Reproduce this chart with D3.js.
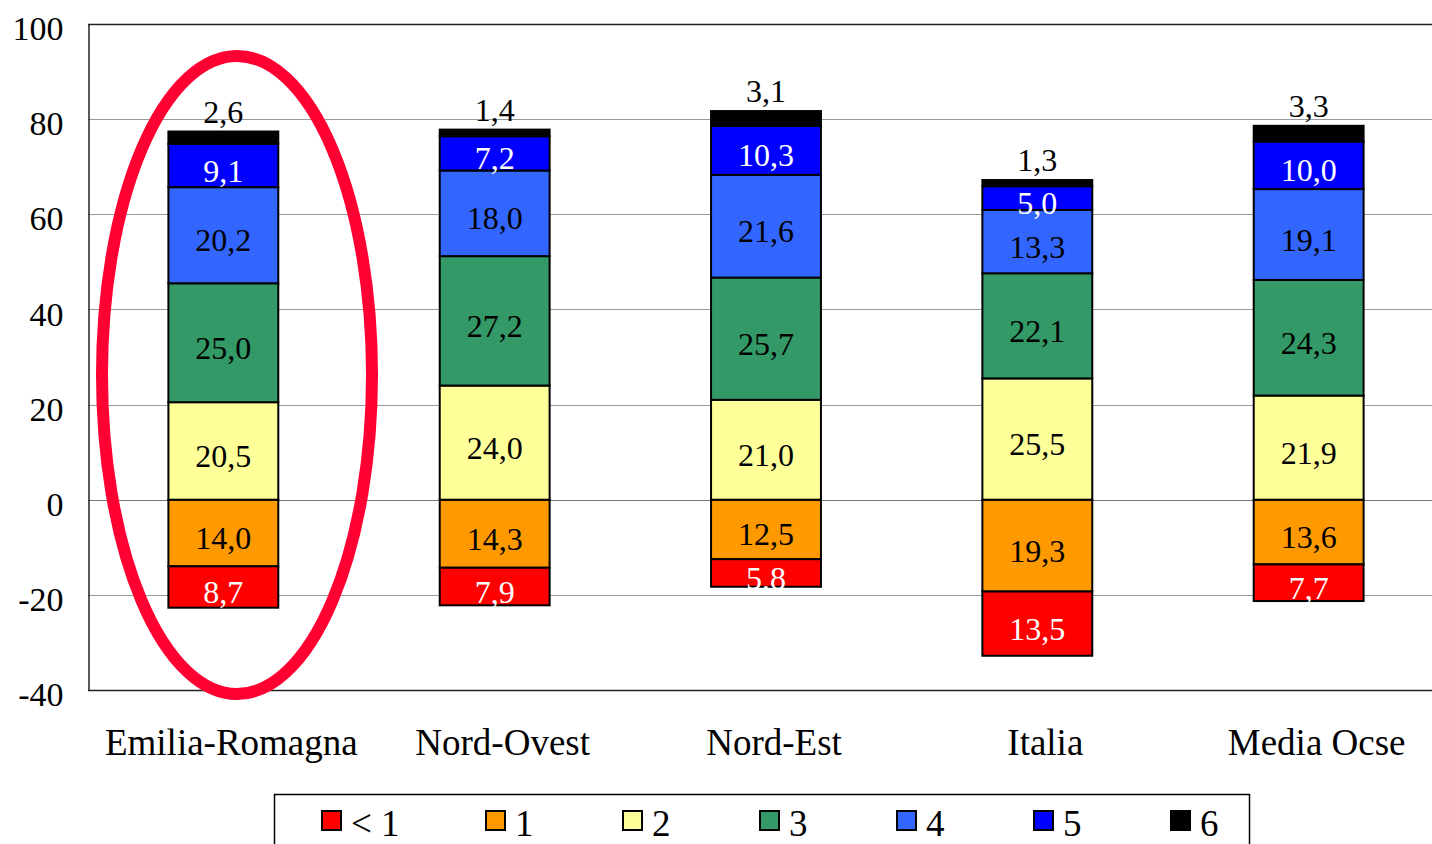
<!DOCTYPE html>
<html>
<head>
<meta charset="utf-8">
<script src="https://cdn.jsdelivr.net/npm/d3@7"></script>
<style>
  body { margin: 0; background: #fff; }
  svg { display: block; font-family: "Liberation Serif", "Times New Roman", serif; }
</style>
</head>
<body>
<div id="chart"></div>
<script>
var width = 1432, height = 844

var categories = ['Emilia-Romagna', 'Nord-Ovest', 'Nord-Est', 'Italia', 'Media Ocse']
var lessThan1 = [8.7, 7.9, 5.8, 13.5, 7.7]
var level1 = [14.0, 14.3, 12.5, 19.3, 13.6]
var level2 = [20.5, 24.0, 21.0, 25.5, 21.9]
var level3 = [25.0, 27.2, 25.7, 22.1, 24.3]
var level4 = [20.2, 18.0, 21.6, 13.3, 19.1]
var level5 = [9.1, 7.2, 10.3, 5.0, 10.0]
var level6 = [2.6, 1.4, 3.1, 1.3, 3.3]
var legendLabels = ['< 1', '1', '2', '3', '4', '5', '6']
var yTicks = [-40, -20, 0, 20, 40, 60, 80, 100]

// below zero: level1 then <1 ; above zero: 2..6
var negSeries = [
  {name: '1', values: level1, color: '#FF9900', text: '#000'},
  {name: '< 1', values: lessThan1, color: '#FF0000', text: '#fff'}
]
var posSeries = [
  {name: '2', values: level2, color: '#FFFF99', text: '#000'},
  {name: '3', values: level3, color: '#339966', text: '#000'},
  {name: '4', values: level4, color: '#3366FF', text: '#000'},
  {name: '5', values: level5, color: '#0000FF', text: '#fff'},
  {name: '6', values: level6, color: '#000000', text: '#000', above: true}
]
var legendColors = ['#FF0000', '#FF9900', '#FFFF99', '#339966', '#3366FF', '#0000FF', '#000000']

var plotL = 88, plotT = 24, plotB = 690

const svg = d3.select('#chart')
    .append('svg')
    .attr('width', width)
    .attr('height', height)

var x = d3.scaleBand()
    .domain(categories)
    .range([87, 1445])
    .paddingInner(0.595)
    .paddingOuter(0.3)

var y = d3.scaleLinear()
    .domain([-40, 100])
    .range([plotB, plotT])

// gridlines
svg.append('g')
    .selectAll('line')
    .data(yTicks.filter(function(d){ return d > -40 && d < 100 }))
    .enter()
    .append('line')
    .attr('x1', plotL).attr('x2', width)
    .attr('y1', function(d){ return Math.round(y(d)) + 0.5 })
    .attr('y2', function(d){ return Math.round(y(d)) + 0.5 })
    .attr('stroke', function(d){ return d == 0 ? '#777' : '#999' })
    .attr('stroke-width', 1)

// frame lines
svg.append('line')
    .attr('x1', plotL).attr('x2', width)
    .attr('y1', Math.round(y(100)) + 0.5).attr('y2', Math.round(y(100)) + 0.5)
    .attr('stroke', '#222').attr('stroke-width', 1.5)
svg.append('line')
    .attr('x1', plotL).attr('x2', width)
    .attr('y1', Math.round(y(-40)) + 0.5).attr('y2', Math.round(y(-40)) + 0.5)
    .attr('stroke', '#222').attr('stroke-width', 1.5)

// y axis
var yAxis = d3.axisLeft(y)
    .tickValues(yTicks)
    .tickSize(0)
    .tickPadding(25)
    .tickFormat(function(d){ return String(d) })
var ya = svg.append('g')
    .attr('transform', 'translate(' + (plotL + 0.5) + ',0)')
    .call(yAxis)
ya.select('.domain').attr('stroke', '#222').attr('stroke-width', 1.5)
ya.selectAll('text')
    .attr('font-family', '"Liberation Serif", serif')
    .attr('font-size', 34)
    .attr('dy', '0.46em')
    .attr('fill', '#000')

// x labels
svg.append('g')
    .selectAll('text')
    .data(categories)
    .enter()
    .append('text')
    .attr('x', function(d){ return x(d) + x.bandwidth() / 2 + 8 })
    .attr('y', 755)
    .attr('text-anchor', 'middle')
    .attr('font-size', 37)
    .text(function(d){ return d })

function fmt(v){ return v.toFixed(1).replace('.', ',') }

// stack segments
var segs = []
categories.forEach(function(c, i){
  var base = 0
  negSeries.forEach(function(s){
    segs.push({cat: c, y0: base, y1: base - s.values[i], v: s.values[i], s: s})
    base -= s.values[i]
  })
  base = 0
  posSeries.forEach(function(s){
    segs.push({cat: c, y0: base, y1: base + s.values[i], v: s.values[i], s: s})
    base += s.values[i]
  })
})

var bars = svg.append('g')
bars.selectAll('rect')
    .data(segs)
    .enter()
    .append('rect')
    .attr('x', function(d){ return x(d.cat) })
    .attr('width', x.bandwidth())
    .attr('y', function(d){ return y(Math.max(d.y0, d.y1)) })
    .attr('height', function(d){ return Math.abs(y(d.y0) - y(d.y1)) })
    .attr('fill', function(d){ return d.s.color })
    .attr('stroke', '#000')
    .attr('stroke-width', 2)

bars.selectAll('text')
    .data(segs)
    .enter()
    .append('text')
    .attr('x', function(d){ return x(d.cat) + x.bandwidth() / 2 })
    .attr('y', function(d){
        if (d.s.above) return y(d.y1) - 9
        return (y(d.y0) + y(d.y1)) / 2 + 16
    })
    .attr('text-anchor', 'middle')
    .attr('font-size', 32)
    .attr('fill', function(d){ return d.s.text })
    .text(function(d){ return fmt(d.v) })

// highlight ellipse
svg.append('ellipse')
    .attr('cx', 237).attr('cy', 375)
    .attr('rx', 135).attr('ry', 319)
    .attr('fill', 'none')
    .attr('stroke', '#FF0033')
    .attr('stroke-width', 12)

// legend
var lg = svg.append('g')
lg.append('rect')
    .attr('x', 274.5).attr('y', 794.5)
    .attr('width', 975).attr('height', 80)
    .attr('fill', '#fff')
    .attr('stroke', '#000')
    .attr('stroke-width', 1.5)

var item = lg.selectAll('g')
    .data(legendLabels)
    .enter()
    .append('g')
    .attr('transform', function(d, i){
        var lx = i == 0 ? 322 : 486 + (i - 1) * 137
        return 'translate(' + lx + ',811)'
    })
item.append('rect')
    .attr('width', 19).attr('height', 19)
    .attr('fill', function(d, i){ return legendColors[i] })
    .attr('stroke', '#000')
    .attr('stroke-width', 2)
item.append('text')
    .attr('x', 29).attr('y', 25)
    .attr('font-size', 37)
    .text(function(d){ return d })
</script>
</body>
</html>
